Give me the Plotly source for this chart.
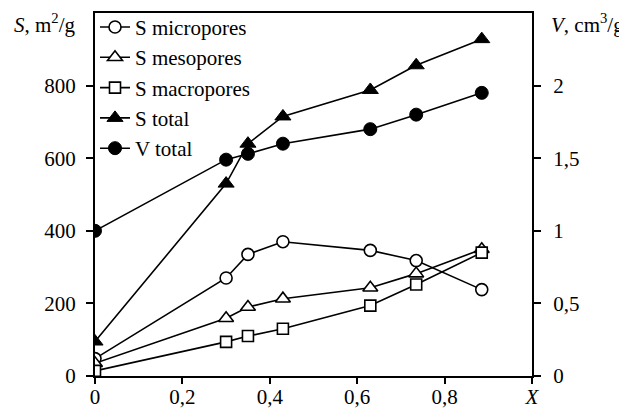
import plotly.graph_objects as go

X = [0, 0.3, 0.35, 0.43, 0.63, 0.735, 0.885]
S_micro = [48, 270, 335, 370, 346, 318, 238]
S_meso = [35, 159, 190, 213, 243, 282, 349]
S_macro = [14, 94, 110, 130, 194, 252, 340]
S_total = [95, 530, 640, 715, 788, 856, 928]
V_total = [1.0, 1.49, 1.53, 1.60, 1.70, 1.80, 1.95]

x_tickvals = [0, 0.2, 0.4, 0.6, 0.8, 1.0]
x_ticktext = ["0", "0,2", "0,4", "0,6", "0,8", "<i>X</i>"]
s_tickvals = [0, 200, 400, 600, 800]
v_tickvals = [0, 0.5, 1, 1.5, 2]
v_ticktext = ["0", "0,5", "1", "1,5", "2"]

FONT = "Liberation Serif"
line = dict(color="black", width=1.6)

fig = go.Figure()
fig.add_trace(go.Scatter(x=X, y=S_micro, name="S micropores", mode="lines+markers", line=line,
                         marker=dict(symbol="circle", size=12, color="white", line=dict(color="black", width=1.6))))
fig.add_trace(go.Scatter(x=X, y=S_meso, name="S mesopores", mode="lines+markers", line=line,
                         marker=dict(symbol="triangle-up", size=13, color="white", line=dict(color="black", width=1.6))))
fig.add_trace(go.Scatter(x=X, y=S_macro, name="S macropores", mode="lines+markers", line=line,
                         marker=dict(symbol="square", size=11, color="white", line=dict(color="black", width=1.6))))
fig.add_trace(go.Scatter(x=X, y=S_total, name="S total", mode="lines+markers", line=line,
                         marker=dict(symbol="triangle-up", size=14, color="black", line=dict(color="black", width=1))))
fig.add_trace(go.Scatter(x=X, y=V_total, name="V total", mode="lines+markers", line=line, yaxis="y2",
                         marker=dict(symbol="circle", size=13, color="black", line=dict(color="black", width=1))))

fig.update_layout(
    width=619, height=407,
    margin=dict(l=87, r=95, t=5, b=39, autoexpand=False),
    plot_bgcolor="white", paper_bgcolor="white",
    font=dict(family=FONT, size=21, color="black"),
    showlegend=True,
    legend=dict(x=0.0, y=1.017, xanchor="left", yanchor="top", bgcolor="rgba(0,0,0,0)",
                font=dict(family=FONT, size=21, color="black"), tracegroupgap=0),
    xaxis=dict(range=[0, 1.0], tickvals=x_tickvals, ticktext=x_ticktext, showline=True, linecolor="black",
               linewidth=2, mirror=True, ticks="outside", ticklen=6, tickwidth=2, tickcolor="black",
               showgrid=False, zeroline=False, automargin=False, ticklabelstandoff=-5),
    yaxis=dict(range=[0, 1000], tickvals=s_tickvals, showline=True, linecolor="black", linewidth=2,
               ticks="outside", ticklen=7, tickwidth=2, tickcolor="black", showgrid=False, zeroline=False,
               automargin=False, ticklabelstandoff=6),
    yaxis2=dict(range=[0, 2.5], tickvals=v_tickvals, ticktext=v_ticktext, overlaying="y", side="right",
                showline=True, linecolor="black", linewidth=2, ticks="outside", ticklen=7, tickwidth=2,
                tickcolor="black", showgrid=False, zeroline=False, automargin=False, ticklabelstandoff=8),
    annotations=[
        dict(text="<i>S</i>, m<sup>2</sup>/g", xref="paper", yref="paper", x=-0.04, y=0.972,
             xanchor="right", yanchor="middle", showarrow=False, font=dict(family=FONT, size=21)),
        dict(text="<i>V</i>, cm<sup>3</sup>/g", xref="paper", yref="paper", x=1.04, y=0.972,
             xanchor="left", yanchor="middle", showarrow=False, font=dict(family=FONT, size=21)),
    ],
)

fig.write_html("out.html")
